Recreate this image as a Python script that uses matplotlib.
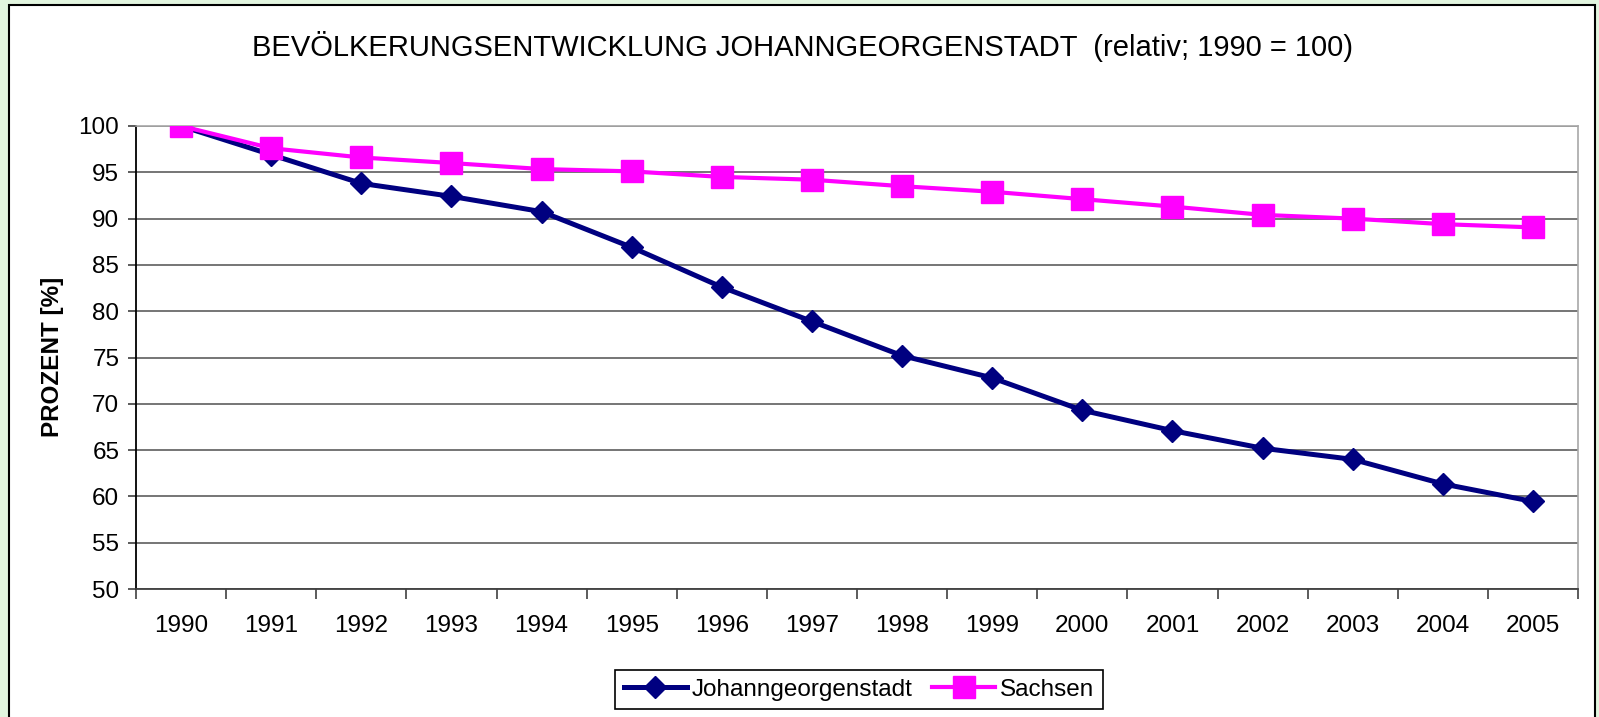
import matplotlib
matplotlib.use("Agg")
import matplotlib.pyplot as plt
from matplotlib.patches import Rectangle

plt.rcParams['font.family'] = ['Liberation Sans', 'DejaVu Sans']

years = [str(y) for y in range(1990, 2006)]
johanngeorgenstadt = [100.0, 96.9, 93.8, 92.4, 90.75, 86.9, 82.6, 78.9, 75.2, 72.8,
                      69.3, 67.1, 65.2, 64.0, 61.35, 59.45]
sachsen = [100.0, 97.6, 96.6, 96.0, 95.35, 95.1, 94.5, 94.2, 93.5, 92.9,
           92.1, 91.3, 90.4, 90.0, 89.4, 89.05]
yticks = list(range(50, 101, 5))

title = "BEVÖLKERUNGSENTWICKLUNG JOHANNGEORGENSTADT  (relativ; 1990 = 100)"
ylabel = "PROZENT [%]"

W, H = 1599, 717
fig = plt.figure(figsize=(W / 100, H / 100), dpi=100)
fig.patch.set_facecolor('#E2F5DF')

# inner white chart area with black frame
frame = Rectangle((9 / W, -0.05), (1595 - 9) / W, 1.05 - 5 / H,
                  transform=fig.transFigure, facecolor='white',
                  edgecolor='black', linewidth=1.5, zorder=-5)
fig.patches.append(frame)

ax = fig.add_axes([136 / W, 1 - 589 / H, (1578 - 136) / W, (589 - 126) / H])
ax.set_zorder(2)
ax.set_facecolor('white')

x = list(range(len(years)))
ax.plot(x, johanngeorgenstadt, color='#000080', linewidth=3.6, marker='D',
        markersize=11.5, label='Johanngeorgenstadt', zorder=3)
ax.plot(x, sachsen, color='#FF00FF', linewidth=3.0, marker='s',
        markersize=15.5, label='Sachsen', zorder=4)

ax.set_xlim(-0.5, len(years) - 0.5)
ax.set_ylim(50, 100)
ax.set_yticks(yticks)
ax.set_yticklabels([str(v) for v in yticks])
ax.set_xticks(x)
ax.set_xticklabels(years)
ax.set_xticks([i - 0.5 for i in range(len(years) + 1)], minor=True)
ax.tick_params(axis='x', which='major', length=0, pad=19, labelsize=17.5)
ax.tick_params(axis='x', which='minor', length=7, width=1.2, color='#404040',
               direction='out')
ax.tick_params(axis='y', length=6, width=1.2, direction='out', pad=6,
               labelsize=17.5, color='#404040')

ax.yaxis.grid(True, color='#5e5e5e', linewidth=1.2)
ax.set_axisbelow(True)
for s in ['top', 'right']:
    ax.spines[s].set_color('#a8a8a8')
    ax.spines[s].set_linewidth(1.2)
ax.spines['left'].set_color('black')
ax.spines['left'].set_linewidth(1.3)
ax.spines['bottom'].set_color('#404040')
ax.spines['bottom'].set_linewidth(1.3)

fig.text(52 / W, 1 - 357 / H, ylabel, rotation=90, ha='center', va='center',
         fontsize=17.5, fontweight='bold')

fig.text(803 / W, 1 - 46 / H, title, ha='center', va='center', fontsize=21)

leg = fig.legend(loc='center', bbox_to_anchor=(859 / W, 1 - 689.5 / H),
                 ncol=2, fontsize=17.5, frameon=True, fancybox=False,
                 edgecolor='black', framealpha=1, handlelength=2.6,
                 handletextpad=0.2, columnspacing=0.8, borderpad=0.35,
                 borderaxespad=0)
leg.get_frame().set_linewidth(1.2)

fig.savefig('out.png', dpi=100, facecolor=fig.get_facecolor())
